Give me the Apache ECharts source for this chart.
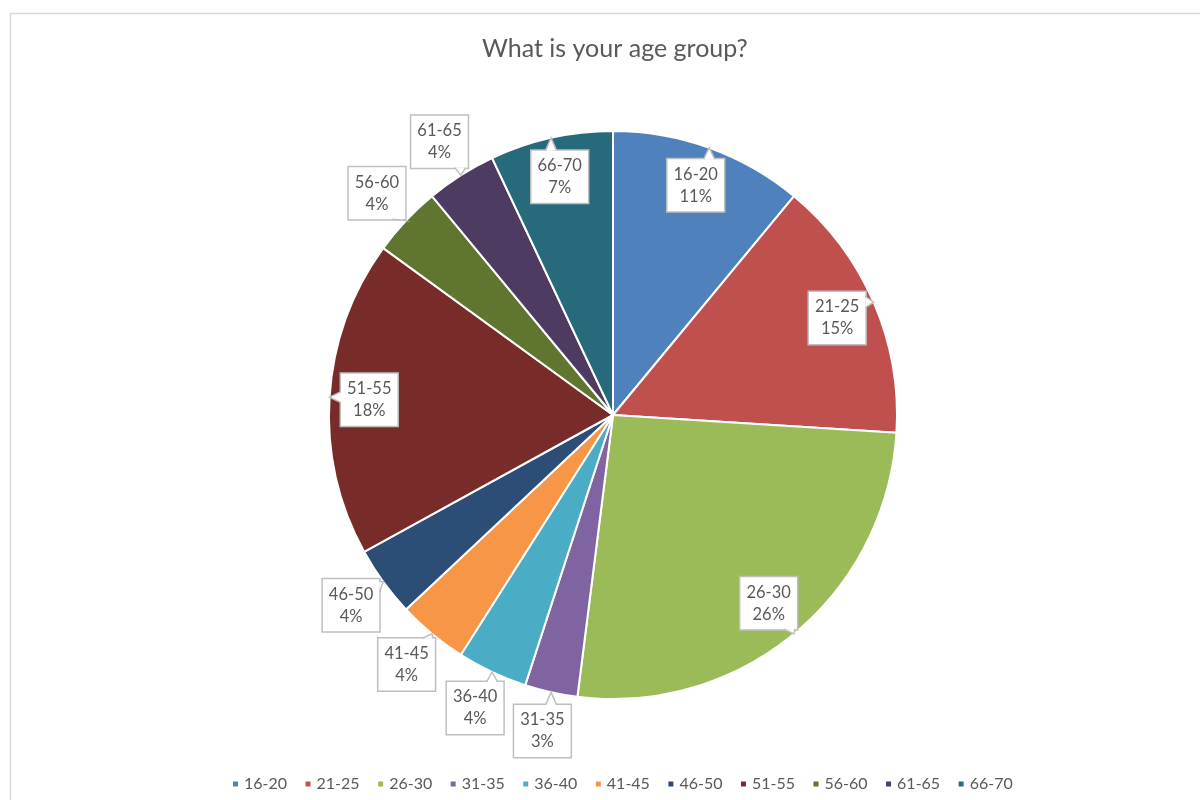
<!DOCTYPE html>
<html>
<head>
<meta charset="utf-8">
<title>What is your age group?</title>
<script src="https://cdn.jsdelivr.net/npm/echarts@6/dist/echarts.min.js"></script>
<style>
  html, body { margin: 0; padding: 0; background: #ffffff; }
  #chart { width: 1200px; height: 800px; }
</style>
</head>
<body>
<div id="chart"></div>
<script>
// Survey answers: share of respondents per age group (percent)
const ageGroups = ['16-20', '21-25', '26-30', '31-35', '36-40', '41-45', '46-50', '51-55', '56-60', '61-65', '66-70'];
const shares = [11, 15, 26, 3, 4, 4, 4, 18, 4, 4, 7];
const sliceColors = ['#4F81BD', '#C0504D', '#9BBB59', '#8064A2', '#4BACC6', '#F79646',
                     '#2C4D75', '#772C2A', '#5F7530', '#4D3B62', '#276A7C'];

// Pie geometry and text styling
const CX = 613, CY = 415, R = 284;
const FONT = 'Lato, "Open Sans", sans-serif';
const FONT_SIZE = 16.5;
const LINE_H = 22;
const PAD = [4, 6, 4, 6];
const TEXT = '#595959';
const BOX_LINE = '#bfbfbf';

function calloutText(i) { return ageGroups[i] + '\n' + shares[i] + '%'; }

// Mid angle of each slice, measured clockwise from 12 o'clock
const total = shares.reduce((a, b) => a + b, 0);
const midAngles = [];
let acc = 0;
shares.forEach(v => {
  midAngles.push((acc + v / 2) / total * 2 * Math.PI);
  acc += v;
});

function polar(a, r) { return [CX + r * Math.sin(a), CY - r * Math.cos(a)]; }

// Callouts sit inside wide slices and just outside narrow ones
function calloutCenter(i) {
  const f = shares[i] >= 7 ? 0.86 : 1.14;
  return polar(midAngles[i], R * f);
}

// Half sizes of each callout box, from the measured text
const measureCtx = document.createElement('canvas').getContext('2d');
measureCtx.font = FONT_SIZE + 'px ' + FONT;
function calloutHalfSize(i) {
  const w = Math.max(...calloutText(i).split('\n').map(s => measureCtx.measureText(s).width));
  return [(w + PAD[1] + PAD[3]) / 2, (2 * LINE_H + PAD[0] + PAD[2]) / 2];
}

// Wedge pointer from each callout box to the middle of its slice's arc
function pointerGraphics() {
  const out = [];
  shares.forEach((v, i) => {
    const tip = polar(midAngles[i], R);
    const c = calloutCenter(i);
    const [hw, hh] = calloutHalfSize(i);
    const dx = tip[0] - c[0], dy = tip[1] - c[1];
    const half = 5.5, inset = 2;
    let b1, b2;
    if (Math.abs(dy) / hh > Math.abs(dx) / hw) {
      const y = c[1] + Math.sign(dy) * hh;
      const x = Math.min(Math.max(tip[0], c[0] - hw + half + inset), c[0] + hw - half - inset);
      b1 = [x - half, y]; b2 = [x + half, y];
    } else {
      const x = c[0] + Math.sign(dx) * hw;
      const y = Math.min(Math.max(tip[1], c[1] - hh + half + inset), c[1] + hh - half - inset);
      b1 = [x, y - half]; b2 = [x, y + half];
    }
    out.push({
      type: 'polygon',
      shape: { points: [b1, tip, b2] },
      style: { fill: '#ffffff', stroke: 'none' },
      silent: true, z: 100
    });
    out.push({
      type: 'polyline',
      shape: { points: [b1, tip, b2] },
      style: { stroke: BOX_LINE, lineWidth: 1.5, fill: 'none' },
      silent: true, z: 101
    });
  });
  return out;
}

const chart = echarts.init(document.getElementById('chart'), null, { renderer: 'canvas' });

chart.setOption({
  backgroundColor: '#ffffff',
  animation: false,
  title: {
    text: 'What is your age group?',
    left: 477,
    top: 31,
    textStyle: { fontFamily: FONT, fontSize: 25, fontWeight: 'normal', color: TEXT }
  },
  graphic: [{
    type: 'rect',
    shape: { x: 10.5, y: 13.5, width: 1400, height: 1000 },
    style: { fill: 'none', stroke: '#d9d9d9', lineWidth: 1.5 },
    silent: true,
    z: -10
  }].concat(pointerGraphics()),
  legend: {
    data: ageGroups,
    bottom: 3,
    left: 226,
    icon: 'rect',
    itemWidth: 7,
    itemHeight: 7,
    itemGap: 16.5,
    textStyle: { fontFamily: FONT, fontSize: 16, color: TEXT }
  },
  series: [{
    type: 'pie',
    center: [CX, CY],
    radius: R,
    startAngle: 90,
    clockwise: true,
    avoidLabelOverlap: false,
    color: sliceColors,
    itemStyle: { borderColor: '#ffffff', borderWidth: 2 },
    data: ageGroups.map((g, i) => ({ name: g, value: shares[i] })),
    label: {
      show: true,
      position: 'outside',
      formatter: '{b}\n{c}%',
      fontFamily: FONT,
      fontSize: FONT_SIZE,
      lineHeight: LINE_H,
      color: TEXT,
      backgroundColor: '#ffffff',
      borderColor: BOX_LINE,
      borderWidth: 1.5,
      padding: PAD,
      align: 'center'
    },
    labelLine: { show: false },
    labelLayout: function (params) {
      const p = calloutCenter(params.dataIndex);
      return { x: p[0], y: p[1], align: 'center', verticalAlign: 'middle' };
    },
    emphasis: { disabled: true }
  }]
});
</script>
</body>
</html>
